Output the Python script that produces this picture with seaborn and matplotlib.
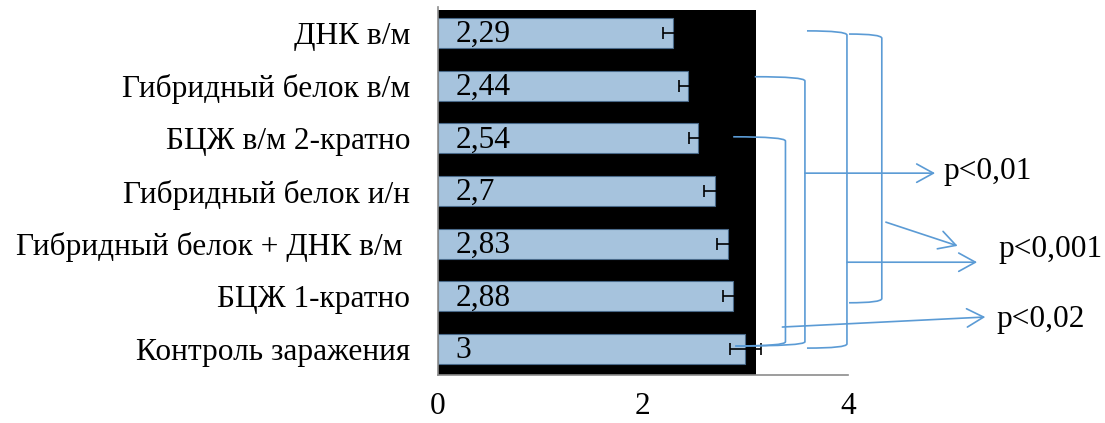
import matplotlib
matplotlib.use("Agg")
import matplotlib.pyplot as plt
from matplotlib.patches import Rectangle, PathPatch
from matplotlib.path import Path
import seaborn as sns
import pandas as pd

# Groups (top to bottom), mean values and their errors
groups = [
    "ДНК в/м",
    "Гибридный белок в/м",
    "БЦЖ в/м 2-кратно",
    "Гибридный белок и/н",
    "Гибридный белок + ДНК в/м ",
    "БЦЖ 1-кратно",
    "Контроль заражения",
]
values = [2.29, 2.44, 2.54, 2.70, 2.83, 2.88, 3.00]
errors = [0.09, 0.09, 0.09, 0.10, 0.11, 0.10, 0.15]
x_ticks = [0, 2, 4]
p_labels = ["p<0,01", "p<0,001", "p<0,02"]

sns.set_theme(style="white")
plt.rcParams["font.family"] = ["Liberation Serif", "DejaVu Serif"]
plt.rcParams["text.color"] = "black"
plt.rcParams["xtick.color"] = "black"
plt.rcParams["ytick.color"] = "black"

BAR = "#9DC3E6"
LINE = "#5B9BD5"
FS = 22.6

df = pd.DataFrame({"group": groups, "value": values})

fig = plt.figure(figsize=(11.05, 4.23), dpi=100)
ax = fig.add_axes([0.3964, 0.1123, 0.371, 0.872])

# dark panel behind the bars
ax.add_patch(Rectangle((0, -0.44), 3.1, 6.97, facecolor="black",
                       edgecolor="none", zorder=0))

sns.barplot(data=df, x="value", y="group", orient="h", color=BAR,
            width=0.57, edgecolor="#4a6a8a", linewidth=0.8,
            errorbar=None, ax=ax, zorder=2)
pos = list(range(len(groups)))
ax.errorbar(values, pos, xerr=errors, fmt="none", ecolor="black",
            elinewidth=1.2, capsize=4.3, capthick=1.2, zorder=3)

for y, v in zip(pos, values):
    ax.text(0.17, y + 0.03, f"{v:g}".replace(".", ","), ha="left",
            va="center", fontsize=FS, color="black", zorder=4)

ax.set_xlim(0, 4)
ax.set_ylim(6.5, -0.5)
ax.set_xticks(x_ticks)
ax.set_xticklabels([str(t) for t in x_ticks], fontsize=FS)
ax.tick_params(axis="x", length=0, pad=12)
ax.tick_params(axis="y", length=0, pad=20, labelsize=FS)
ax.set_xlabel("")
ax.set_ylabel("")
for s in ("top", "right"):
    ax.spines[s].set_visible(False)
for s in ("left", "bottom"):
    ax.spines[s].set_color("#8c8c8c")
    ax.spines[s].set_linewidth(1.2)
ax.set_facecolor("white")


def bracket(x_top, y_top, x_v, y_bot, x_bot, d=0.08):
    verts = [(x_top, y_top), (x_v, y_top), (x_v, y_top + d),
             (x_v, y_bot - d),
             (x_v, y_bot), (x_bot, y_bot)]
    codes = [Path.MOVETO, Path.CURVE3, Path.CURVE3,
             Path.LINETO, Path.CURVE3, Path.CURVE3]
    ax.add_patch(PathPatch(Path(verts, codes), facecolor="none",
                           edgecolor=LINE, lw=1.2, clip_on=False, zorder=5))


# comparison brackets against the infection control group
bracket(3.09, 0.83, 3.58, 5.94, 2.90)
bracket(2.88, 1.97, 3.39, 5.94, 2.90)
bracket(3.60, -0.04, 3.99, 5.98, 3.60)
bracket(4.01, 0.02, 4.33, 5.12, 4.01)

arrow_kw = dict(arrowstyle="->,head_length=0.6,head_width=0.33",
                color=LINE, lw=1.2, mutation_scale=20,
                shrinkA=0, shrinkB=0)


def arrow(x0, y0, x1, y1):
    ax.annotate("", xy=(x1, y1), xytext=(x0, y0), xycoords="data",
                arrowprops=arrow_kw, annotation_clip=False, zorder=5)


arrow(3.58, 2.66, 4.85, 2.66)
arrow(4.37, 3.59, 5.07, 4.04)
arrow(3.99, 4.35, 5.26, 4.35)
arrow(3.36, 5.58, 5.34, 5.39)

ax.text(4.93, 2.62, p_labels[0], ha="left", va="center", fontsize=FS,
        clip_on=False)
ax.text(5.47, 4.10, p_labels[1], ha="left", va="center", fontsize=FS,
        clip_on=False)
ax.text(5.45, 5.43, p_labels[2], ha="left", va="center", fontsize=FS,
        clip_on=False)

fig.savefig("out.png", dpi=100, facecolor="white")
